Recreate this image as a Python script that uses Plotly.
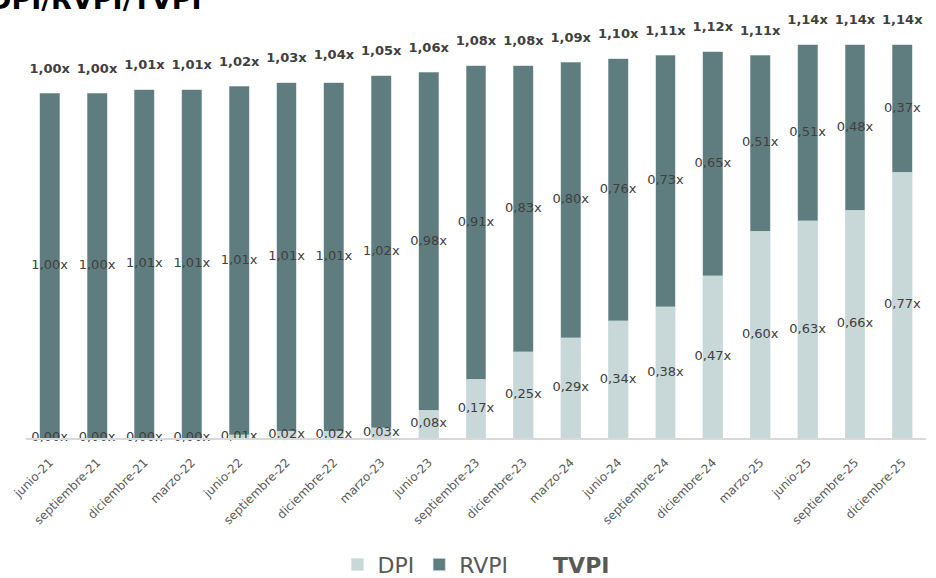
import plotly.graph_objects as go

periods = ["junio-21", "septiembre-21", "diciembre-21", "marzo-22", "junio-22",
           "septiembre-22", "diciembre-22", "marzo-23", "junio-23", "septiembre-23",
           "diciembre-23", "marzo-24", "junio-24", "septiembre-24", "diciembre-24",
           "marzo-25", "junio-25", "septiembre-25", "diciembre-25"]
dpi = [0.00, 0.00, 0.00, 0.00, 0.01, 0.02, 0.02, 0.03, 0.08, 0.17,
       0.25, 0.29, 0.34, 0.38, 0.47, 0.60, 0.63, 0.66, 0.77]
rvpi = [1.00, 1.00, 1.01, 1.01, 1.01, 1.01, 1.01, 1.02, 0.98, 0.91,
        0.83, 0.80, 0.76, 0.73, 0.65, 0.51, 0.51, 0.48, 0.37]
tvpi = [1.00, 1.00, 1.01, 1.01, 1.02, 1.03, 1.04, 1.05, 1.06, 1.08,
        1.08, 1.09, 1.10, 1.11, 1.12, 1.11, 1.14, 1.14, 1.14]

FONT = "DejaVu Sans"
C_DPI = "#C8D7D8"
C_RVPI = "#5F7D7E"
C_LBL = "#404040"
C_AX = "#595959"


def fmt(v):
    return f"{v:.2f}".replace(".", ",") + "x"


fig = go.Figure()
fig.add_trace(go.Bar(x=periods, y=dpi, name="DPI", marker_color=C_DPI,
                     marker_line=dict(color="#d6e1e2", width=0.5), width=0.42))
fig.add_trace(go.Bar(x=periods, y=rvpi, name="RVPI", marker_color=C_RVPI,
                     marker_line=dict(color="#b9cacb", width=0.5), width=0.42))

# segment labels
fig.add_trace(go.Scatter(x=periods, y=[d / 2 for d in dpi], mode="text",
                         text=[fmt(v) for v in dpi], showlegend=False,
                         textfont=dict(family=FONT, size=13, color=C_LBL),
                         cliponaxis=False, hoverinfo="skip"))
fig.add_trace(go.Scatter(x=periods, y=[d + r / 2 for d, r in zip(dpi, rvpi)], mode="text",
                         text=[fmt(v) for v in rvpi], showlegend=False,
                         textfont=dict(family=FONT, size=13, color=C_LBL),
                         cliponaxis=False, hoverinfo="skip"))
# TVPI total labels
fig.add_trace(go.Scatter(x=periods, y=tvpi, mode="markers+text", name="<b>TVPI</b>",
                         text=["<b>" + fmt(v) + "</b>" for v in tvpi],
                         textposition="top center",
                         marker=dict(size=26, color="rgba(0,0,0,0)"),
                         textfont=dict(family=FONT, size=13, color=C_LBL),
                         cliponaxis=False, hoverinfo="skip"))

fig.add_annotation(text="<b>DPI/RVPI/TVPI</b>", xref="paper", yref="paper",
                   x=-0.043, y=1.0755, xanchor="left", yanchor="middle",
                   showarrow=False, font=dict(family=FONT, size=27, color="#000000"))

fig.update_layout(
    width=936, height=578,
    margin=dict(l=26, r=10, t=30, b=140),
    barmode="stack",
    plot_bgcolor="white", paper_bgcolor="white",
    font=dict(family=FONT, color=C_AX),
    showlegend=True,
    legend=dict(orientation="h", x=0.5, xanchor="center", xref="paper",
                yref="container", y=0.023, yanchor="middle",
                font=dict(family=FONT, size=22, color=C_AX), traceorder="normal"),
    xaxis=dict(type="category", tickangle=-45, showline=True, linecolor="#D9D9D9",
               linewidth=1.5, ticks="", tickfont=dict(family=FONT, size=12, color=C_AX),
               ticklabelstandoff=11, ticklabelshift=0,
               range=[-0.5, len(periods) - 0.5]),
    yaxis=dict(visible=False, range=[0, 1.183], showgrid=False, zeroline=False),
)

fig.write_html("out.html", config={"displayModeBar": False},
               post_script="document.body.style.margin='0px';document.body.style.overflow='hidden';")
